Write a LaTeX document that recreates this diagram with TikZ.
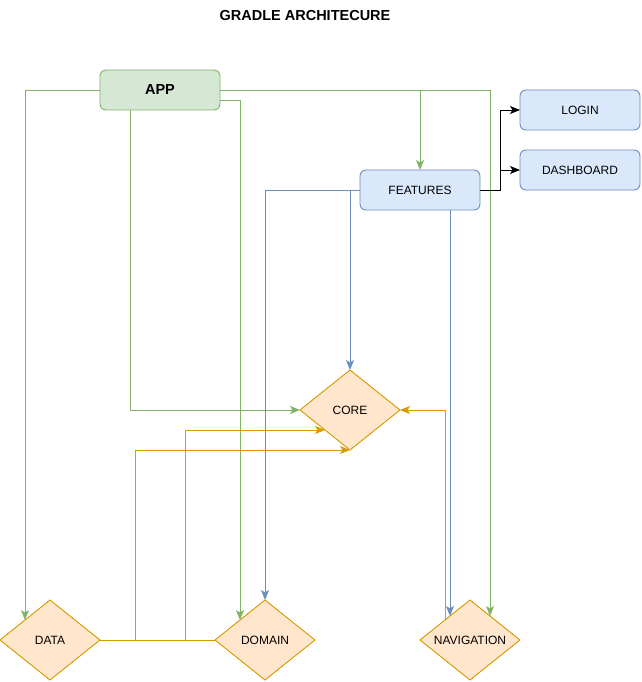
\documentclass[tikz,border=0pt]{standalone}
\usepackage{fontspec}
\setmainfont{Liberation Sans}
\usetikzlibrary{shapes.geometric,arrows.meta,calc}

\definecolor{greenfill}{HTML}{D5E8D4}
\definecolor{greenline}{HTML}{82B366}
\definecolor{bluefill}{HTML}{DAE8FC}
\definecolor{blueline}{HTML}{6C8EBF}
\definecolor{orangefill}{HTML}{FFE6CC}
\definecolor{orangeline}{HTML}{D79B00}

\tikzset{
  box/.style={rectangle, rounded corners=6pt, minimum width=120pt, minimum height=40pt,
    inner sep=0pt, outer sep=0pt, line width=0.9pt, font=\fontsize{12}{14}\selectfont},
  greenbox/.style={box, draw=greenline, fill=greenfill},
  bluebox/.style={box, draw=blueline, fill=bluefill},
  module/.style={diamond, aspect=1.25, minimum width=100pt, minimum height=80pt,
    inner sep=0pt, outer sep=0pt, draw=orangeline, fill=orangefill, line width=0.9pt,
    font=\fontsize{12}{14}\selectfont},
  link/.style={line width=0.9pt, -{Stealth[length=10pt,width=8pt,inset=2.5pt]}},
  greenlink/.style={link, draw=greenline},
  bluelink/.style={link, draw=blueline},
  orangelink/.style={link, draw=orangeline},
  blacklink/.style={link, draw=black}
}

\begin{document}
\begin{tikzpicture}[x=1pt,y=-1pt]
  \useasboundingbox[fill=white] (0,0) rectangle (641,682);

  % title
  \node[font=\fontsize{14.5}{17}\selectfont\bfseries] (title) at (305,16) {GRADLE ARCHITECURE};

  % modules
  \node[greenbox, font=\fontsize{14.5}{17}\selectfont\bfseries] (app) at (160,90) {APP};
  \node[bluebox] (features) at (420,190) {FEATURES};
  \node[bluebox] (login) at (580,110) {LOGIN};
  \node[bluebox] (dashboard) at (580,170) {DASHBOARD};
  \node[module] (core) at (350,410) {CORE};
  \node[module] (data) at (50,640) {DATA};
  \node[module] (domain) at (265,640) {DOMAIN};
  \node[module] (nav) at (470,640) {NAVIGATION};

  % entry points on the navigation diamond
  \coordinate (navR) at ($(nav.north)!0.4!(nav.east)$);
  \coordinate (navL) at ($(nav.north)!0.4!(nav.west)$);

  % app dependencies
  \draw[greenlink] (app.west) -| (data.north west);
  \draw[greenlink] ([xshift=-30pt]app.south) |- (core.west);
  \draw[greenlink] ([yshift=-10pt]app.east) -| (domain.north west);
  \draw[greenlink] (app.east) -| (navR);
  \draw[greenlink] (app.east) -| (features.north);

  % feature dependencies
  \draw[bluelink] (features.west) -| (core.north);
  \draw[bluelink] (features.west) -| (domain.north);
  \draw[bluelink] (features.south -| navL) -- (navL);

  % feature screens
  \draw[blacklink] (features.east) -- ++(20,0) |- (login.west);
  \draw[blacklink] (features.east) -- ++(20,0) |- (dashboard.west);

  % core consumers
  \draw[orangelink] (nav.north west) |- (core.east);
  \draw[orangelink] (data.east) -- ++(85,0) |- (core.south west);
  \draw[orangelink] (domain.west) -- ++(-80,0) |- (core.south);
\end{tikzpicture}
\end{document}
